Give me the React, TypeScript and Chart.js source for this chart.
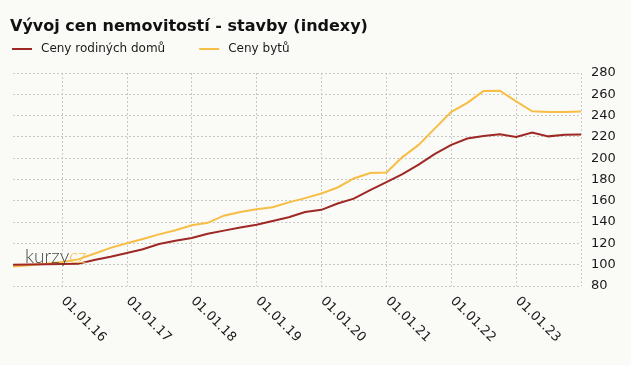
import React, { useEffect, useRef } from "react";
import { Chart, registerables } from "chart.js";

Chart.register(...registerables);

const chartTitle = "Vývoj cen nemovitostí - stavby (indexy)";
const seriesNames = ["Ceny rodiných domů", "Ceny bytů"];

const quarterEnds = [
  "31.03.15", "30.06.15", "30.09.15", "31.12.15",
  "31.03.16", "30.06.16", "30.09.16", "31.12.16",
  "31.03.17", "30.06.17", "30.09.17", "31.12.17",
  "31.03.18", "30.06.18", "30.09.18", "31.12.18",
  "31.03.19", "30.06.19", "30.09.19", "31.12.19",
  "31.03.20", "30.06.20", "30.09.20", "31.12.20",
  "31.03.21", "30.06.21", "30.09.21", "31.12.21",
  "31.03.22", "30.06.22", "30.09.22", "31.12.22",
  "31.03.23", "30.06.23", "30.09.23", "31.12.23",
];

const housePrices = [
  100, 100.2, 100.4, 100.6, 100.8, 104.5, 107.5, 111,
  114.5, 119.5, 122.5, 125, 129, 132, 135, 137.5,
  141, 144.5, 149.5, 151.5, 157.5, 162, 170, 177.5,
  185, 194, 204, 212.5, 218.5, 220.8, 222.5, 220,
  224, 220.5, 222, 222.3,
];

const flatPrices = [
  98.2, 99.5, 100.8, 102.5, 105, 110.3, 115.8, 120.2,
  124.2, 128.5, 132.3, 137, 139.3, 146, 149.5, 152,
  154, 158.5, 162.5, 166.8, 172.5, 181, 186, 186.5,
  201, 212.5, 228, 243.5, 252, 263, 263.4, 253.3,
  244, 243.3, 243.3, 243.9,
];

const yearTicks = [
  "01.01.16", "01.01.17", "01.01.18", "01.01.19",
  "01.01.20", "01.01.21", "01.01.22", "01.01.23",
];

const yMin = 80;
const yMax = 280;
const yStep = 20;

const BG = "#fafaf7";
const RED = "#9e2824";
const YELLOW = "#f7be45";
const GRID = "#c8c8c8";
const TEXT = "#1a1a1a";
const FONT = "'DejaVu Sans', Verdana, sans-serif";

function parseDate(s: string): number {
  const [d, m, y] = s.split(".").map(Number);
  return Date.UTC(2000 + y, m - 1, d);
}

export default function App() {
  const ref = useRef<HTMLCanvasElement>(null);

  useEffect(() => {
    document.body.style.margin = "0";
    document.body.style.background = BG;
    const canvas = ref.current!;
    const xMin = parseDate(quarterEnds[0]);
    const xMax = parseDate(quarterEnds[quarterEnds.length - 1]);

    const bgPlugin = {
      id: "bg",
      beforeDraw(chart: any) {
        const c = chart.ctx;
        c.save();
        c.fillStyle = BG;
        c.fillRect(0, 0, chart.width, chart.height);
        c.restore();
      },
    };

    const watermarkPlugin = {
      id: "wm",
      afterDatasetsDraw(chart: any) {
        const c = chart.ctx;
        const a = chart.chartArea;
        c.save();
        c.font = "300 19px Lato, 'Open Sans', sans-serif";
        c.textBaseline = "alphabetic";
        c.textAlign = "left";
        c.fillStyle = "#4a4a4a";
        const x0 = a.left + 12;
        const y0 = a.bottom - 23;
        c.fillText("kurzy", x0, y0);
        const w = c.measureText("kurzy").width;
        c.fillStyle = "#f0c24a";
        c.fillText("cz", x0 + w, y0);
        c.restore();
      },
    };

    const xLabelPlugin = {
      id: "xlabels",
      afterDraw(chart: any) {
        const c = chart.ctx;
        const sc = chart.scales.x;
        const a = chart.chartArea;
        c.save();
        c.font = "13px " + FONT;
        c.fillStyle = TEXT;
        c.textAlign = "left";
        c.textBaseline = "middle";
        yearTicks.forEach((lab) => {
          const x = sc.getPixelForValue(parseDate(lab));
          c.save();
          c.translate(x + 1, a.bottom + 13);
          c.rotate(Math.PI / 4);
          c.fillText(lab, 0, 0);
          c.restore();
        });
        c.restore();
      },
    };

    const headerPlugin = {
      id: "header",
      afterDraw(chart: any) {
        const c = chart.ctx;
        c.save();
        c.fillStyle = "#111";
        c.font = "bold 16px " + FONT;
        c.textAlign = "left";
        c.textBaseline = "alphabetic";
        c.fillText(chartTitle, 10, 31);
        c.font = "12px " + FONT;
        c.textBaseline = "middle";
        let x = 12;
        const y = 49;
        chart.data.datasets.forEach((ds: any) => {
          c.strokeStyle = ds.borderColor;
          c.lineWidth = 2;
          c.beginPath();
          c.moveTo(x, y);
          c.lineTo(x + 20, y);
          c.stroke();
          c.fillStyle = TEXT;
          c.fillText(ds.label, x + 29, y);
          x += 29 + c.measureText(ds.label).width + 34;
        });
        c.restore();
      },
    };

    const chart = new Chart(canvas, {
      type: "line",
      data: {
        datasets: [
          {
            label: seriesNames[0],
            data: quarterEnds.map((q, i) => ({ x: parseDate(q), y: housePrices[i] })),
            borderColor: RED,
            backgroundColor: RED,
            borderWidth: 2,
            pointRadius: 0,
            tension: 0,
          },
          {
            label: seriesNames[1],
            data: quarterEnds.map((q, i) => ({ x: parseDate(q), y: flatPrices[i] })),
            borderColor: YELLOW,
            backgroundColor: YELLOW,
            borderWidth: 2,
            pointRadius: 0,
            tension: 0,
          },
        ],
      },
      options: {
        responsive: false,
        animation: false,
        layout: { padding: { left: 13, top: 73, right: 0, bottom: 0 } },
        plugins: {
          legend: { display: false },
          title: { display: false },
          tooltip: { enabled: false },
        },
        scales: {
          x: {
            type: "linear",
            min: xMin,
            max: xMax,
            afterBuildTicks(s: any) {
              s.ticks = yearTicks.map((l) => ({ value: parseDate(l) })).concat([{ value: xMax }]);
            },
            ticks: { display: false },
            grid: { color: GRID, lineWidth: 1, drawTicks: false },
            border: { display: false, dash: [2, 2] },
            afterFit(s: any) {
              s.height = 79;
            },
          },
          y: {
            position: "right",
            min: yMin,
            max: yMax,
            ticks: {
              stepSize: yStep,
              font: { family: FONT, size: 13 },
              color: TEXT,
              padding: 10,
            },
            grid: { color: GRID, lineWidth: 1, drawTicks: false },
            border: { display: false, dash: [2, 2] },
            afterFit(s: any) {
              s.width = 50;
            },
          },
        },
      } as any,
      plugins: [bgPlugin, watermarkPlugin, xLabelPlugin, headerPlugin],
    });
    return () => chart.destroy();
  }, []);

  return (
    <canvas
      ref={ref}
      width={631}
      height={365}
      style={{ position: "fixed", left: 0, top: 0, width: 631, height: 365 }}
    />
  );
}
